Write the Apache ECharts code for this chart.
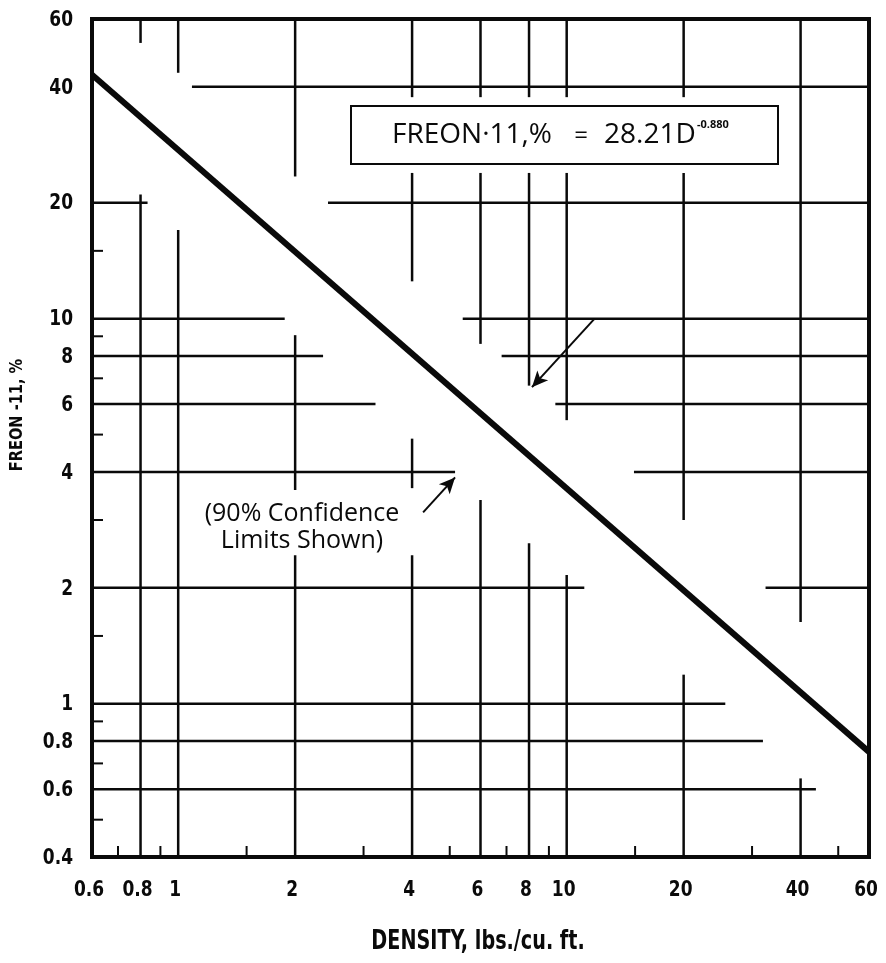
<!DOCTYPE html>
<html><head><meta charset="utf-8">
<script src="https://cdn.jsdelivr.net/npm/echarts@6/dist/echarts.min.js"></script>
<style>html,body{margin:0;padding:0;background:#fff}#c{width:886px;height:963px}</style>
</head><body><div id="c"></div>
<script>
// ---- data ----
const xTickLabels = [0.6, 0.8, 1, 2, 4, 6, 8, 10, 20, 40, 60];
const yTickLabels = [0.4, 0.6, 0.8, 1, 2, 4, 6, 8, 10, 20, 40, 60];
const xMinorTicks = [0.7, 0.9, 1.5, 3, 5, 7, 9, 15, 30, 50];
const yMinorTicks = [0.5, 0.7, 0.9, 1.5, 3, 5, 7, 9, 15];
const densityValues = [0.6, 60];
const freonValues = [43, 0.75];
// vertical grid segments: [x, yFrom, yTo]
const vSegments = [
  [0.8, 60, 52], [0.8, 21, 0.4],
  [1, 60, 43.5], [1, 17, 0.4],
  [2, 60, 23.4], [2, 9.06, 3.59], [2, 2.43, 0.4],
  [4, 60, 37.6], [4, 23.9, 12.5], [4, 4.88, 3.63], [4, 2.43, 0.4],
  [6, 60, 37.6], [6, 23.9, 8.6], [6, 3.38, 0.4],
  [8, 60, 37.6], [8, 23.9, 6.7], [8, 2.61, 0.4],
  [10, 60, 37.6], [10, 23.9, 5.45], [10, 2.16, 0.4],
  [20, 60, 37.6], [20, 23.9, 3.0], [20, 1.19, 0.4],
  [40, 60, 1.63], [40, 0.64, 0.4]
];
// horizontal grid segments: [y, xFrom, xTo]
const hSegments = [
  [40, 1.085, 60],
  [20, 0.6, 0.834], [20, 2.43, 60],
  [10, 0.6, 1.88], [10, 5.40, 60],
  [8, 0.6, 2.36], [8, 6.80, 60],
  [6, 0.6, 3.22], [6, 9.35, 60],
  [4, 0.6, 5.16], [4, 14.9, 60],
  [2, 0.6, 11.1], [2, 32.5, 60],
  [1, 0.6, 25.6],
  [0.8, 0.6, 32.0],
  [0.6, 0.6, 43.8]
];
// annotation arrows: [[xFrom, yFrom], [xTo, yTo]]
const arrows = [
  [[11.8, 10.0], [8.14, 6.64]],
  [[4.27, 3.14], [5.16, 3.87]]
];

// ---- chart ----
const X_MIN = xTickLabels[0], X_MAX = xTickLabels[xTickLabels.length - 1];
const Y_MIN = yTickLabels[0], Y_MAX = yTickLabels[yTickLabels.length - 1];
const INK = '#0a0a0a';
const NARROW = '"Liberation Sans Narrow", "DejaVu Sans Condensed", sans-serif';
const SANS = '"Open Sans", "Liberation Sans", sans-serif';

function lineEl(p1, p2, w) {
  return { type: 'line', shape: { x1: p1[0], y1: p1[1], x2: p2[0], y2: p2[1] },
    style: { stroke: INK, lineWidth: w } };
}

const chart = echarts.init(document.getElementById('c'), null, { renderer: 'canvas' });
chart.setOption({
  animation: false,
  backgroundColor: '#fff',
  grid: { left: 92, right: 17, top: 19, bottom: 106, show: true,
    borderColor: INK, borderWidth: 4, backgroundColor: 'transparent' },
  xAxis: { type: 'log', logBase: 10, min: X_MIN, max: X_MAX,
    axisLine: { show: false }, axisTick: { show: false }, axisLabel: { show: false }, splitLine: { show: false } },
  yAxis: { type: 'log', logBase: 10, min: Y_MIN, max: Y_MAX,
    axisLine: { show: false }, axisTick: { show: false }, axisLabel: { show: false }, splitLine: { show: false } },
  series: [
    { type: 'custom', silent: true, clip: false, z: 2,
      data: vSegments.map(s => [s[0], s[1], s[2]]), encode: { x: 0, y: 1 },
      renderItem: (p, api) => lineEl(api.coord([api.value(0), api.value(1)]), api.coord([api.value(0), api.value(2)]), 2.5) },
    { type: 'custom', silent: true, clip: false, z: 2,
      data: hSegments.map(s => [s[0], s[1], s[2]]), encode: { x: 1, y: 0 },
      renderItem: (p, api) => lineEl(api.coord([api.value(1), api.value(0)]), api.coord([api.value(2), api.value(0)]), 2.5) },
    { type: 'custom', silent: true, clip: false, z: 2,
      data: xMinorTicks.map(v => [v, Y_MIN]), encode: { x: 0, y: 1 },
      renderItem: (p, api) => { const c = api.coord([api.value(0), api.value(1)]); return lineEl(c, [c[0], c[1] - 11], 2); } },
    { type: 'custom', silent: true, clip: false, z: 2,
      data: yMinorTicks.map(v => [X_MIN, v]), encode: { x: 0, y: 1 },
      renderItem: (p, api) => { const c = api.coord([api.value(0), api.value(1)]); return lineEl(c, [c[0] + 11, c[1]], 2); } },
    { type: 'custom', silent: true, clip: false, z: 3,
      data: xTickLabels.map(v => [v, Y_MIN]), encode: { x: 0, y: 1 },
      renderItem: (p, api) => { const c = api.coord([api.value(0), api.value(1)]);
        return { type: 'text', x: c[0] - 3, y: c[1] + 33, scaleX: 0.86, style: { text: String(xTickLabels[p.dataIndex]),
          font: 'bold 22px ' + NARROW, fill: INK, align: 'center', verticalAlign: 'middle' } }; } },
    { type: 'custom', silent: true, clip: false, z: 3,
      data: yTickLabels.map(v => [X_MIN, v]), encode: { x: 0, y: 1 },
      renderItem: (p, api) => { const c = api.coord([api.value(0), api.value(1)]);
        return { type: 'text', x: c[0] - 19, y: c[1] + 1, scaleX: 0.86, style: { text: String(yTickLabels[p.dataIndex]),
          font: 'bold 22px ' + NARROW, fill: INK, align: 'right', verticalAlign: 'middle' } }; } },
    { type: 'line', name: 'FREON-11', silent: true, z: 4,
      data: densityValues.map((d, i) => [d, freonValues[i]]),
      symbol: 'none', lineStyle: { color: INK, width: 6 },
      markLine: { silent: true, symbol: ['none', 'arrow'], symbolSize: [11, 16],
        lineStyle: { color: INK, width: 2, type: 'solid' }, label: { show: false },
        emphasis: { disabled: true },
        data: arrows.map(a => [{ coord: a[0] }, { coord: a[1] }]) } }
  ],
  graphic: [
    { type: 'rect', left: 350, top: 105, z: 100, shape: { width: 427, height: 58 },
      style: { fill: '#fff', stroke: INK, lineWidth: 2 } },
    { type: 'text', x: 392, y: 135, z: 101, style: { text: 'FREON·11,%', font: '28px ' + SANS, fill: INK, align: 'left', verticalAlign: 'middle' } },
    { type: 'text', x: 581, y: 136, z: 101, style: { text: '=', font: '24px ' + SANS, fill: INK, align: 'center', verticalAlign: 'middle' } },
    { type: 'text', x: 604, y: 135, z: 101, style: { text: '28.21D', font: '28px ' + SANS, fill: INK, align: 'left', verticalAlign: 'middle' } },
    { type: 'text', x: 697, y: 125, z: 101, style: { text: '-0.880', font: 'bold 11px ' + SANS, fill: INK, align: 'left', verticalAlign: 'middle' } },
    { type: 'text', x: 302, y: 514, z: 101, style: { text: '(90% Confidence', font: '25px ' + SANS, fill: INK, align: 'center', verticalAlign: 'middle' } },
    { type: 'text', x: 302, y: 541, z: 101, style: { text: 'Limits Shown)', font: '25px ' + SANS, fill: INK, align: 'center', verticalAlign: 'middle' } },
    { type: 'text', x: 478, y: 942, z: 101, scaleX: 0.79, style: { text: 'DENSITY, lbs./cu. ft.', font: 'bold 27px ' + NARROW, fill: INK, align: 'center', verticalAlign: 'middle' } },
    { type: 'text', x: 17, y: 415, rotation: Math.PI / 2, scaleX: 0.9, z: 101, style: { text: 'FREON -11, %', font: 'bold 18px ' + NARROW, fill: INK, align: 'center', verticalAlign: 'middle' } }
  ]
});
</script></body></html>
